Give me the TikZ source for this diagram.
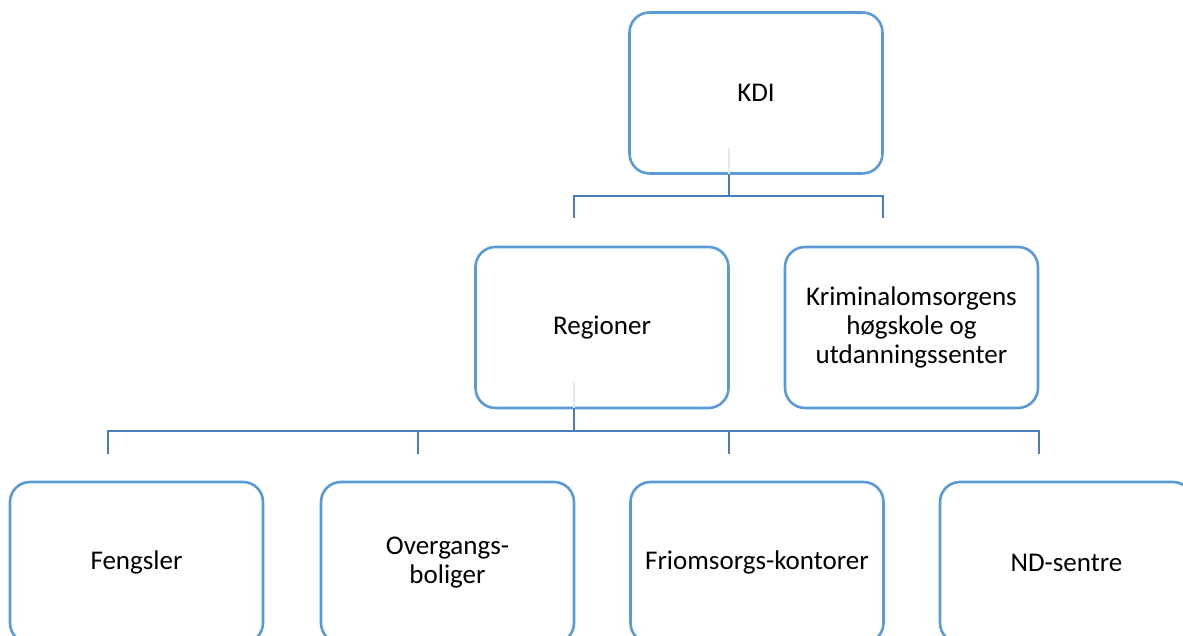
\documentclass[tikz,border=0pt]{standalone}
\usepackage{fontspec}
\setmainfont{Carlito}
\definecolor{boxblue}{RGB}{91,155,213}
\definecolor{linkblue}{RGB}{74,126,187}
\definecolor{fadeblue}{RGB}{225,235,246}
\begin{document}
\begin{tikzpicture}[x=1pt,y=1pt,
  orgbox/.style={draw=boxblue, line width=2.6pt, fill=white, rounded corners=20pt,
    minimum width=253pt, minimum height=161pt, align=center,
    font=\fontsize{27}{28.8}\selectfont, text=black},
  link/.style={draw=linkblue, line width=2.7pt},
  fade/.style={draw=fadeblue, line width=2.7pt}]
\useasboundingbox (0,0) rectangle (1183,636);
\begin{scope}
\clip (0,0) rectangle (1183,636);
\node[orgbox] (kdi) at (756,543) {KDI};
\node[orgbox] (reg) at (602,308.5) {Regioner};
\node[orgbox] (krim) at (911.5,308.5) {Kriminalomsorgens\\høgskole og\\utdanningssenter};
\node[orgbox] (feng) at (136.5,73.5) {Fengsler};
\node[orgbox] (over) at (447.5,73.5) {Overgangs-\\boliger};
\node[orgbox] (frio) at (757,73.5) {Friomsorgs-kontorer};
\node[orgbox] (nd) at (1066.5,73.5) {ND-sentre};
% top connector
\coordinate (kdiout) at (729,462);
\coordinate (kdiin) at (729,488);
\coordinate (kdibar) at (729,440);
\coordinate (regdrop) at (574,418);
\coordinate (krimdrop) at (883,418);
\draw[fade] (kdiin) -- (kdiout);
\draw[link] (kdiout) -- (kdibar);
\draw[link] (regdrop) |- (kdibar) -| (krimdrop);
% lower connector
\coordinate (regout) at (574,228);
\coordinate (regin) at (574,254);
\coordinate (regbar) at (574,205);
\coordinate (fengdrop) at (108,182);
\coordinate (overdrop) at (418,182);
\coordinate (friodrop) at (729,182);
\coordinate (nddrop) at (1039,182);
\draw[fade] (regin) -- (regout);
\draw[link] (regout) -- (regbar);
\draw[link] (fengdrop) |- (regbar) -| (nddrop);
\draw[link] (overdrop) -- (overdrop |- regbar);
\draw[link] (friodrop) -- (friodrop |- regbar);
\end{scope}
\end{tikzpicture}
\end{document}
